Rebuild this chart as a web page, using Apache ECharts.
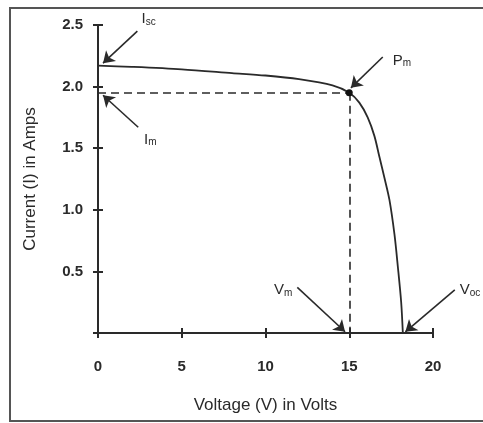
<!DOCTYPE html>
<html>
<head>
<meta charset="utf-8">
<script src="https://cdn.jsdelivr.net/npm/echarts@6/dist/echarts.min.js"></script>
<style>
  html, body { margin: 0; padding: 0; background: #fff; }
  #ivcurve { width: 483px; height: 423px; }
</style>
</head>
<body>
<div id="ivcurve"></div>
<script>
// I-V curve: voltage (V), current (A)
var voltage = [0, 2, 5, 8, 10, 12, 14, 15, 15.6, 16.1, 16.5, 16.8, 17.1, 17.4, 17.7, 17.9, 18.1, 18.2];
var current = [2.17, 2.16, 2.14, 2.11, 2.09, 2.06, 2.01, 1.95, 1.87, 1.75, 1.60, 1.43, 1.26, 1.08, 0.80, 0.54, 0.25, 0.0];
var xTicks = [0, 5, 10, 15, 20];
var yTicks = [0, 0.5, 1.0, 1.5, 2.0, 2.5];
// max power point
var pmV = 15;
var pmI = 1.95;

var curveData = voltage.map(function (v, i) { return [v, current[i]]; });

var ink = '#2a2a2a';
var fontFam = '"Liberation Sans", Arial, sans-serif';

// arrows: tail -> head in data coords, label placed near the tail
var arrows = [
    { from: [2.35, 2.45], to: [0.3, 2.19], name: 'I', sub: 'sc', pos: [2.6, 2.55] },
    { from: [2.4, 1.67], to: [0.3, 1.93], name: 'I', sub: 'm', pos: [2.75, 1.57] },
    { from: [17.0, 2.24], to: [15.1, 1.99], name: 'P', sub: 'm', pos: [17.6, 2.21] },
    { from: [11.9, 0.37], to: [14.75, 0.01], name: 'V', sub: 'm', pos: [10.5, 0.35] },
    { from: [21.3, 0.35], to: [18.35, 0.01], name: 'V', sub: 'oc', pos: [21.6, 0.35] }
];

var chart = echarts.init(document.getElementById('ivcurve'));

var option = {
    backgroundColor: '#fff',
    animation: false,
    grid: { left: 98, right: 50, top: 25, bottom: 90 },
    xAxis: [{
        type: 'value',
        min: 0, max: 20, interval: 5,
        name: 'Voltage (V) in Volts',
        nameLocation: 'middle',
        nameGap: 64,
        nameTextStyle: { color: ink, fontSize: 17, fontFamily: fontFam },
        axisLine: { onZero: false, lineStyle: { color: ink, width: 2 } },
        axisTick: { length: 5, lineStyle: { color: ink, width: 2 } },
        axisLabel: { margin: 26, color: ink, fontSize: 15, fontWeight: 'bold', fontFamily: fontFam },
        splitLine: { show: false }
    }, {
        type: 'value',
        position: 'bottom',
        min: 0, max: 20, interval: 5,
        axisLine: { show: false },
        axisTick: { inside: true, length: 5, lineStyle: { color: ink, width: 2 } },
        axisLabel: { show: false },
        splitLine: { show: false }
    }],
    yAxis: [{
        type: 'value',
        min: 0, max: 2.5, interval: 0.5,
        name: 'Current (I) in Amps',
        nameLocation: 'middle',
        nameGap: 59,
        nameTextStyle: { color: ink, fontSize: 17, fontFamily: fontFam },
        axisLine: { onZero: false, lineStyle: { color: ink, width: 2 } },
        axisTick: { length: 5, lineStyle: { color: ink, width: 2 } },
        axisLabel: {
            margin: 15, color: ink, fontSize: 15, fontWeight: 'bold', fontFamily: fontFam,
            formatter: function (v) { return v === 0 ? '' : v.toFixed(1); }
        },
        splitLine: { show: false }
    }, {
        type: 'value',
        position: 'left',
        min: 0, max: 2.5, interval: 0.5,
        axisLine: { show: false },
        axisTick: { inside: true, length: 5, lineStyle: { color: ink, width: 2 } },
        axisLabel: { show: false },
        splitLine: { show: false }
    }],
    series: [{
        name: 'I-V',
        type: 'line',
        data: curveData,
        smooth: 0.3,
        showSymbol: false,
        clip: false,
        lineStyle: { color: ink, width: 1.8 },
        markLine: {
            silent: true,
            symbol: ['none', 'none'],
            lineStyle: { color: ink, width: 1.6, type: [8, 5] },
            label: { show: false },
            data: [
                [{ coord: [0, pmI] }, { coord: [pmV, pmI] }],
                [{ coord: [pmV, pmI] }, { coord: [pmV, 0] }]
            ]
        },
        markPoint: {
            silent: true,
            symbol: 'circle',
            symbolSize: 7,
            itemStyle: { color: '#111' },
            label: { show: false },
            data: [{ coord: [pmV, pmI] }]
        }
    }, {
        name: 'arrows',
        type: 'lines',
        coordinateSystem: 'cartesian2d',
        silent: true,
        clip: false,
        symbol: ['none', 'arrow'],
        symbolSize: [7, 11],
        lineStyle: { color: ink, width: 1.6, opacity: 1 },
        data: arrows.map(function (a) {
            return { coords: [a.from, a.to] };
        })
    }]
};

chart.setOption(option);

// frame and annotation labels (positions from data coords)
var graphics = [{
    type: 'rect',
    shape: { x: 10, y: 8, width: 490, height: 413 },
    style: { fill: 'none', stroke: '#555', lineWidth: 2 }
}];
arrows.forEach(function (a) {
    var p = chart.convertToPixel({ gridIndex: 0 }, a.pos);
    graphics.push({
        type: 'text',
        x: p[0], y: p[1],
        style: {
            text: '{a|' + a.name + '}{b|' + a.sub + '}',
            align: 'left',
            verticalAlign: 'middle',
            rich: {
                a: { fontSize: 15, fill: ink, fontFamily: fontFam },
                b: { fontSize: 10, fill: ink, fontFamily: fontFam, padding: [6, 0, 0, 0] }
            }
        }
    });
});
chart.setOption({ graphic: graphics });
</script>
</body>
</html>
